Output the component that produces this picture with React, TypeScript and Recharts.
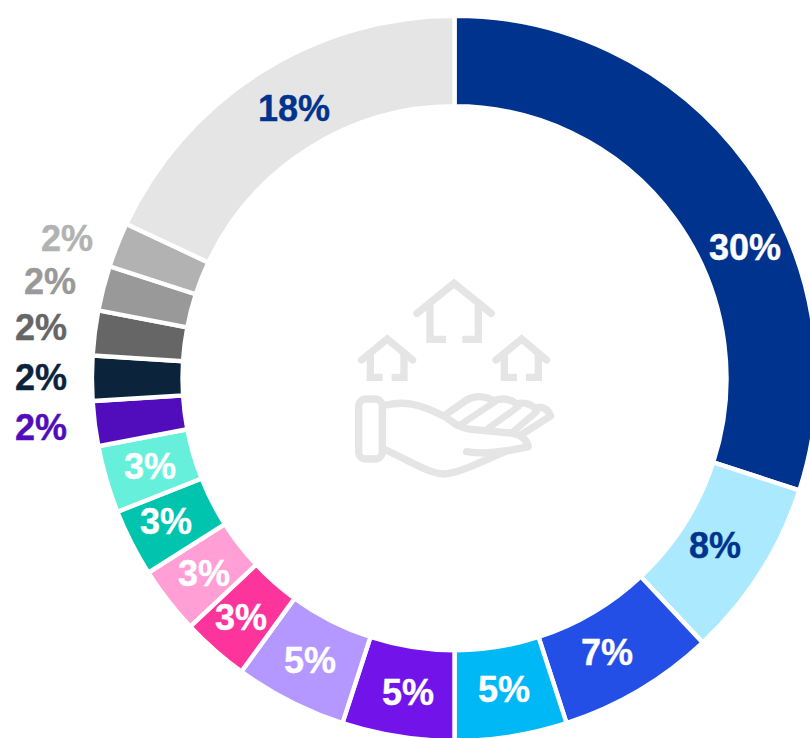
import { PieChart, Pie, Cell } from 'recharts';

const shares = [30, 8, 7, 5, 5, 5, 3, 3, 3, 3, 2, 2, 2, 2, 2, 18];
const sliceColors = [
  '#00338D', '#ABE9FF', '#234FE6', '#00B8F5', '#7213EA', '#B497FF', '#FD349C', '#FF9FD6',
  '#00C4AE', '#66F0DC', '#510DBC', '#0C233C', '#666666', '#999999', '#B2B2B2', '#E5E5E5',
];
const labelColors = [
  '#FFFFFF', '#00338D', '#FFFFFF', '#FFFFFF', '#FFFFFF', '#FFFFFF', '#FFFFFF', '#FFFFFF',
  '#FFFFFF', '#FFFFFF', '#510DBC', '#0C233C', '#666666', '#999999', '#B2B2B2', '#00338D',
];

const chartData = shares.map((value, i) => ({ name: `s${i}`, value }));

const CX = 454.5;
const CY = 378.3;
const RAD = Math.PI / 180;

// labels that were moved by hand in the original, keyed by slice index
const movedLabels: Record<number, { x: number; y: number }> = {
  0: { x: 745, y: 247 },
  1: { x: 715, y: 545 },
  2: { x: 607, y: 652 },
  3: { x: 504, y: 689 },
  4: { x: 408, y: 692 },
  5: { x: 310, y: 660 },
  6: { x: 241, y: 617 },
  7: { x: 204, y: 573 },
  8: { x: 166, y: 521 },
  9: { x: 150, y: 466 },
  10: { x: 41, y: 427 },
  11: { x: 41, y: 377 },
  12: { x: 41, y: 327 },
  13: { x: 50, y: 281 },
  14: { x: 67, y: 238 },
  15: { x: 294, y: 108 },
};

const renderLabel = (props: any) => {
  const { index, midAngle } = props;
  const moved = movedLabels[index];
  const x = moved ? moved.x : CX + 316 * Math.cos(-midAngle * RAD);
  const y = moved ? moved.y : CY + 316 * Math.sin(-midAngle * RAD);
  return (
    <text
      x={x}
      y={y}
      fill={labelColors[index]}
      stroke={labelColors[index]}
      strokeWidth={0.4}
      textAnchor='middle'
      dominantBaseline='central'
      fontFamily='Liberation Sans'
      fontWeight={700}
      fontSize={36}
    >
      {`${shares[index]}%`}
    </text>
  );
};

// hand + houses in the middle of the ring
const HandIcon = () => (
  <svg
    width={810}
    height={738}
    style={{ position: 'absolute', left: 0, top: 0, pointerEvents: 'none' }}
  >
    <g
      transform='translate(345 270) scale(0.3333)'
      fill='none'
      stroke='#E5E5E5'
      strokeWidth={22}
      strokeLinecap='round'
      strokeLinejoin='miter'
    >
      <path d='M216 130 L327 40 L439 130' />
      <path d='M255 102 V208 H303 M400 102 V208 H352' strokeLinecap='butt' />
      <path d='M50 270 L127 207 L203 270' />
      <path d='M76 245 V322 H113 M177 245 V322 H140' strokeLinecap='butt' />
      <path d='M453 270 L530 207 L605 270' />
      <path d='M478 245 V322 H516 M580 245 V322 H543' strokeLinecap='butt' />
      <rect x={41} y={387} width={71} height={180} rx={22} />
      <path
        d='M122 405 C170 395 210 395 300 440 C330 462 345 475 380 478 L505 490 C530 495 545 510 550 530 C520 538 500 538 480 545 C420 570 340 612 295 612 C250 610 200 575 122 540'
        strokeLinejoin='round'
      />
      <path d='M365 545 C400 550 440 550 480 543' />
      <path
        d='M305 432 L365 390 C390 375 420 378 445 392 C475 382 500 390 515 402 C540 395 560 405 572 416 C590 405 610 418 617 438 L535 490'
        strokeLinejoin='round'
      />
      <path d='M345 465 L450 395 M430 475 L520 410 M505 485 L575 425' strokeWidth={20} />
    </g>
  </svg>
);

export default function App() {
  return (
    <div
      style={{
        position: 'fixed',
        left: 0,
        top: 0,
        width: 810,
        height: 738,
        overflow: 'hidden',
        background: '#FFFFFF',
      }}
    >
      <PieChart width={810} height={738} margin={{ top: 0, right: 0, bottom: 0, left: 0 }}>
        <Pie
          data={chartData}
          dataKey='value'
          cx={CX}
          cy={CY}
          innerRadius={272}
          outerRadius={362.6}
          startAngle={90}
          endAngle={-270}
          stroke='#FFFFFF'
          strokeWidth={4.4}
          label={renderLabel}
          labelLine={false}
          isAnimationActive={false}
        >
          {shares.map((_, i) => (
            <Cell key={i} fill={sliceColors[i]} />
          ))}
        </Pie>
      </PieChart>
      <HandIcon />
    </div>
  );
}
